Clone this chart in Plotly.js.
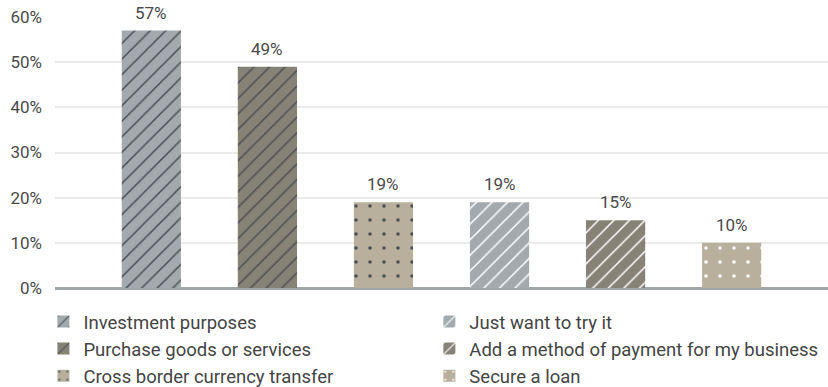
<!DOCTYPE html>
<html>
<head>
<meta charset="utf-8">
<script src="https://cdn.plot.ly/plotly-3.0.1.min.js"></script>
<style>
  html, body { margin: 0; padding: 0; background: #ffffff; }
  #chart { width: 828px; height: 387px; }
</style>
</head>
<body>
<div id="chart"></div>
<script>
// Reasons for using crypto, share of respondents (%)
const categories = [
  'Investment purposes',
  'Purchase goods or services',
  'Cross border currency transfer',
  'Just want to try it',
  'Add a method of payment for my business',
  'Secure a loan'
];
const values = [57, 49, 19, 19, 15, 10];
// which of the two legend columns each reason is listed in
const legendColumn = ['legend', 'legend', 'legend', 'legend2', 'legend2', 'legend2'];
const yTicks = [0, 10, 20, 30, 40, 50, 60];

const GREY = '#a3a9ad';
const TAUPE = '#878276';
const SAND = '#b8b09d';
const INK = '#4b4e54';
const WHITE = '#ffffff';

const styles = [
  { bg: GREY,  fg: INK,   shape: '/', size: 11, solidity: 0.14 },
  { bg: TAUPE, fg: INK,   shape: '/', size: 11, solidity: 0.14 },
  { bg: SAND,  fg: INK,   shape: '.', size: 14, solidity: 0.05 },
  { bg: GREY,  fg: WHITE, shape: '/', size: 11, solidity: 0.14 },
  { bg: TAUPE, fg: WHITE, shape: '/', size: 11, solidity: 0.14 },
  { bg: SAND,  fg: WHITE, shape: '.', size: 14, solidity: 0.05 }
];

const FONT = 'Roboto, sans-serif';
const TEXT = '#4a4a4a';

const traces = categories.map((c, i) => ({
  type: 'bar',
  name: c,
  x: [c],
  y: [values[i]],
  width: 0.51,
  legend: legendColumn[i],
  hoverinfo: 'skip',
  marker: {
    color: styles[i].bg,
    line: { width: 0 },
    pattern: {
      shape: styles[i].shape,
      fillmode: 'replace',
      bgcolor: styles[i].bg,
      fgcolor: styles[i].fg,
      size: styles[i].size,
      solidity: styles[i].solidity
    }
  }
}));

// value labels above each bar
const annotations = categories.map((c, i) => ({
  x: c,
  y: values[i],
  xref: 'x',
  yref: 'y',
  text: values[i] + '%',
  showarrow: false,
  yanchor: 'bottom',
  yshift: 6,
  font: { family: FONT, size: 17, color: TEXT }
}));

const legendBase = {
  orientation: 'v',
  xref: 'paper',
  xanchor: 'left',
  yref: 'container',
  y: 0.217,
  yanchor: 'top',
  tracegroupgap: 0,
  itemclick: false,
  bgcolor: 'rgba(0,0,0,0)',
  font: { family: FONT, size: 18.5, color: '#444444' }
};

const layout = {
  width: 828,
  height: 387,
  margin: { l: 55, r: 0, t: 17, b: 99 },
  paper_bgcolor: '#ffffff',
  plot_bgcolor: '#ffffff',
  barmode: 'overlay',
  showlegend: true,
  font: { family: FONT, size: 17, color: TEXT },
  xaxis: {
    type: 'category',
    categoryorder: 'array',
    categoryarray: categories,
    range: [-0.83, 5.83],
    showticklabels: false,
    showgrid: false,
    zeroline: false,
    showline: false,
    ticks: ''
  },
  yaxis: {
    range: [0, 60],
    tickvals: yTicks,
    ticktext: yTicks.map(v => v + '%'),
    showgrid: true,
    gridcolor: '#ebebeb',
    gridwidth: 2,
    zeroline: true,
    zerolinecolor: '#a2a7aa',
    zerolinewidth: 3,
    showline: false,
    ticks: '',
    ticklabelstandoff: 12,
    tickfont: { family: FONT, size: 17, color: TEXT }
  },
  legend: Object.assign({}, legendBase, { x: -0.015 }),
  legend2: Object.assign({}, legendBase, { x: 0.4843 }),
  annotations: annotations
};

Plotly.newPlot('chart', traces, layout, { displayModeBar: false, staticPlot: true });
</script>
</body>
</html>
